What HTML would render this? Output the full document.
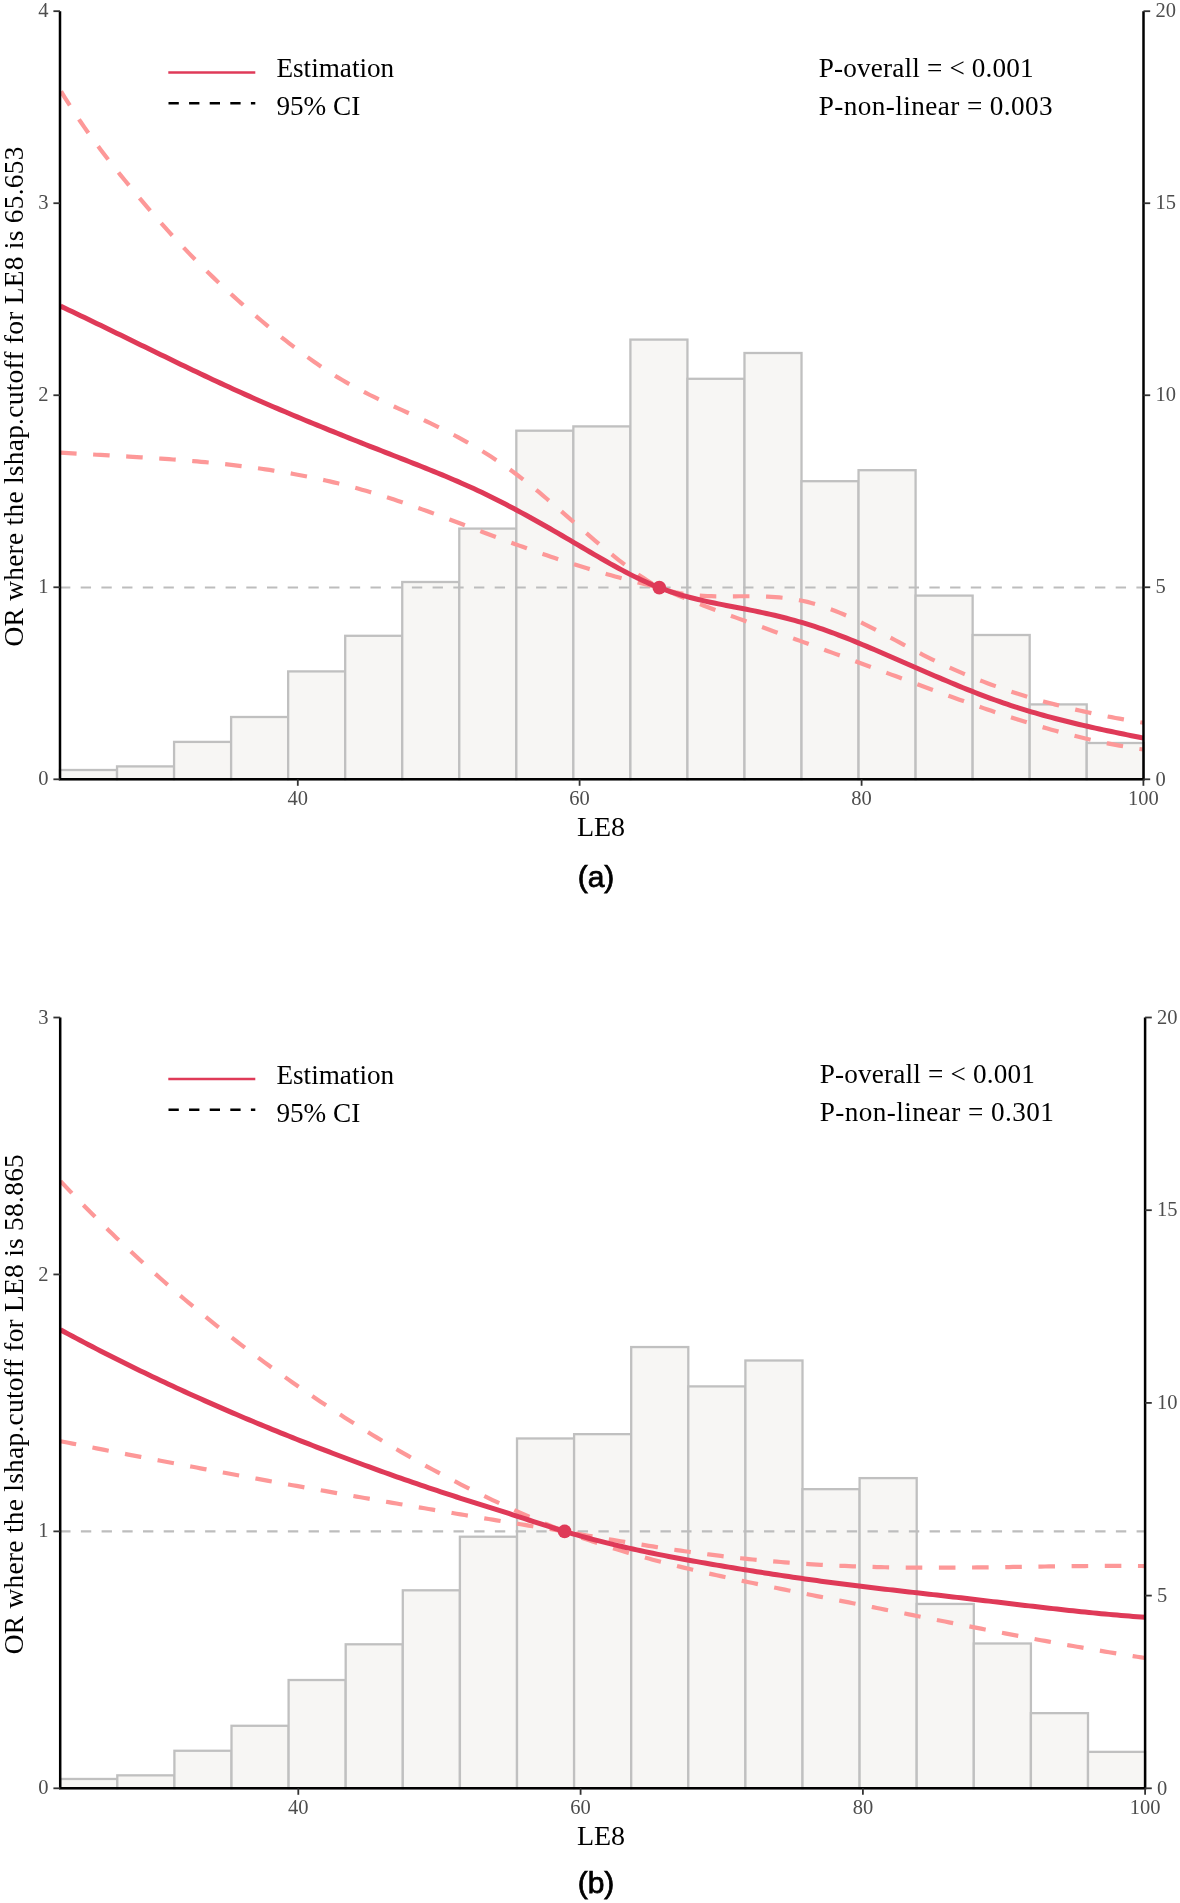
<!DOCTYPE html>
<html><head><meta charset="utf-8"><style>
html,body{margin:0;padding:0;background:#fff;}
svg{display:block;will-change:transform;}
.tk{font-family:"Liberation Serif",serif;font-size:20.5px;fill:#4d4d4d;}
.ttl{font-family:"Liberation Serif",serif;font-size:27.4px;fill:#000;}
.ttx{font-family:"Liberation Serif",serif;font-size:28px;fill:#000;}
.lg{font-family:"Liberation Serif",serif;font-size:27.2px;fill:#000;}
.pl{font-family:"Liberation Sans",sans-serif;font-size:30px;font-weight:normal;fill:#000;stroke:#000;stroke-width:0.75px;}
</style></head><body>
<svg width="1180" height="1903" viewBox="0 0 1180 1903">
<defs><clipPath id="clipa"><rect x="60.0" y="6.2" width="1083.5" height="773.1"/></clipPath><clipPath id="clipb"><rect x="60.2" y="1012.5" width="1084.9" height="775.8"/></clipPath></defs>
<rect width="1180" height="1903" fill="#fff"/>
<rect x="60.00" y="770.00" width="57.04" height="9.30" fill="#f7f6f4" stroke="#c0c0c0" stroke-width="2.3"/>
<rect x="117.04" y="766.40" width="57.04" height="12.90" fill="#f7f6f4" stroke="#c0c0c0" stroke-width="2.3"/>
<rect x="174.08" y="741.90" width="57.04" height="37.40" fill="#f7f6f4" stroke="#c0c0c0" stroke-width="2.3"/>
<rect x="231.12" y="717.00" width="57.04" height="62.30" fill="#f7f6f4" stroke="#c0c0c0" stroke-width="2.3"/>
<rect x="288.16" y="671.40" width="57.04" height="107.90" fill="#f7f6f4" stroke="#c0c0c0" stroke-width="2.3"/>
<rect x="345.20" y="635.80" width="57.04" height="143.50" fill="#f7f6f4" stroke="#c0c0c0" stroke-width="2.3"/>
<rect x="402.24" y="582.00" width="57.04" height="197.30" fill="#f7f6f4" stroke="#c0c0c0" stroke-width="2.3"/>
<rect x="459.28" y="528.60" width="57.04" height="250.70" fill="#f7f6f4" stroke="#c0c0c0" stroke-width="2.3"/>
<rect x="516.32" y="430.70" width="57.04" height="348.60" fill="#f7f6f4" stroke="#c0c0c0" stroke-width="2.3"/>
<rect x="573.36" y="426.40" width="57.04" height="352.90" fill="#f7f6f4" stroke="#c0c0c0" stroke-width="2.3"/>
<rect x="630.40" y="339.60" width="57.04" height="439.70" fill="#f7f6f4" stroke="#c0c0c0" stroke-width="2.3"/>
<rect x="687.44" y="378.80" width="57.04" height="400.50" fill="#f7f6f4" stroke="#c0c0c0" stroke-width="2.3"/>
<rect x="744.48" y="353.00" width="57.04" height="426.30" fill="#f7f6f4" stroke="#c0c0c0" stroke-width="2.3"/>
<rect x="801.52" y="481.20" width="57.04" height="298.10" fill="#f7f6f4" stroke="#c0c0c0" stroke-width="2.3"/>
<rect x="858.56" y="470.20" width="57.04" height="309.10" fill="#f7f6f4" stroke="#c0c0c0" stroke-width="2.3"/>
<rect x="915.60" y="595.60" width="57.04" height="183.70" fill="#f7f6f4" stroke="#c0c0c0" stroke-width="2.3"/>
<rect x="972.64" y="635.00" width="57.04" height="144.30" fill="#f7f6f4" stroke="#c0c0c0" stroke-width="2.3"/>
<rect x="1029.68" y="704.40" width="57.04" height="74.90" fill="#f7f6f4" stroke="#c0c0c0" stroke-width="2.3"/>
<rect x="1086.72" y="743.00" width="57.04" height="36.30" fill="#f7f6f4" stroke="#c0c0c0" stroke-width="2.3"/>
<line x1="60.0" y1="587.50" x2="1143.5" y2="587.50" stroke="#bdbdbd" stroke-width="2.2" stroke-dasharray="10.35 10.35"/>
<g clip-path="url(#clipa)">
<path d="M60.50 90.46 L64.52 97.05 L68.54 103.47 L72.56 109.72 L76.58 115.82 L80.59 121.77 L84.61 127.59 L88.63 133.28 L92.65 138.86 L96.67 144.32 L100.69 149.69 L104.71 154.96 L108.73 160.16 L112.74 165.28 L116.76 170.33 L120.78 175.33 L124.80 180.29 L128.82 185.20 L132.84 190.08 L136.86 194.92 L140.88 199.71 L144.89 204.45 L148.91 209.15 L152.93 213.81 L156.95 218.41 L160.97 222.97 L164.99 227.47 L169.01 231.92 L173.03 236.31 L177.04 240.65 L181.06 244.94 L185.08 249.17 L189.10 253.35 L193.12 257.48 L197.14 261.55 L201.16 265.58 L205.18 269.56 L209.20 273.49 L213.21 277.37 L217.23 281.21 L221.25 285.00 L225.27 288.75 L229.29 292.46 L233.31 296.12 L237.33 299.75 L241.35 303.34 L245.36 306.89 L249.38 310.40 L253.40 313.88 L257.42 317.32 L261.44 320.73 L265.46 324.11 L269.48 327.45 L273.50 330.76 L277.51 334.03 L281.53 337.27 L285.55 340.46 L289.57 343.61 L293.59 346.71 L297.61 349.77 L301.63 352.77 L305.65 355.73 L309.67 358.64 L313.68 361.49 L317.70 364.28 L321.72 367.02 L325.74 369.70 L329.76 372.31 L333.78 374.87 L337.80 377.35 L341.82 379.77 L345.83 382.12 L349.85 384.41 L353.87 386.63 L357.89 388.79 L361.91 390.91 L365.93 392.97 L369.95 395.00 L373.97 396.98 L377.98 398.93 L382.00 400.85 L386.02 402.74 L390.04 404.61 L394.06 406.47 L398.08 408.31 L402.10 410.15 L406.12 411.98 L410.13 413.81 L414.15 415.65 L418.17 417.50 L422.19 419.36 L426.21 421.24 L430.23 423.15 L434.25 425.08 L438.27 427.04 L442.29 429.04 L446.30 431.07 L450.32 433.13 L454.34 435.24 L458.36 437.39 L462.38 439.58 L466.40 441.81 L470.42 444.10 L474.44 446.43 L478.45 448.81 L482.47 451.25 L486.49 453.74 L490.51 456.29 L494.53 458.91 L498.55 461.58 L502.57 464.32 L506.59 467.12 L510.60 470.00 L514.62 472.94 L518.64 475.96 L522.66 479.05 L526.68 482.20 L530.70 485.41 L534.72 488.68 L538.74 491.99 L542.76 495.35 L546.77 498.75 L550.79 502.18 L554.81 505.64 L558.83 509.12 L562.85 512.62 L566.87 516.13 L570.89 519.65 L574.91 523.16 L578.92 526.67 L582.94 530.18 L586.96 533.66 L590.98 537.13 L595.00 540.56 L599.02 543.97 L603.04 547.34 L607.06 550.67 L611.07 553.95 L615.09 557.17 L619.11 560.34 L623.13 563.44 L627.15 566.48 L631.17 569.43 L635.19 572.31 L639.21 575.11 L643.22 577.81 L647.24 580.42 L651.26 582.92 L655.28 585.32 L659.30 587.60 L663.30 588.97 L667.30 590.19 L671.30 591.27 L675.31 592.22 L679.31 593.05 L683.31 593.76 L687.31 594.36 L691.31 594.87 L695.31 595.28 L699.32 595.62 L703.32 595.88 L707.32 596.07 L711.32 596.21 L715.32 596.30 L719.32 596.34 L723.33 596.36 L727.33 596.35 L731.33 596.33 L735.33 596.29 L739.33 596.26 L743.33 596.24 L747.34 596.23 L751.34 596.25 L755.34 596.29 L759.34 596.37 L763.34 596.49 L767.34 596.65 L771.35 596.86 L775.35 597.12 L779.35 597.45 L783.35 597.84 L787.35 598.30 L791.35 598.85 L795.36 599.48 L799.36 600.19 L803.36 601.00 L807.36 601.91 L811.36 602.93 L815.36 604.05 L819.37 605.26 L823.37 606.56 L827.37 607.95 L831.37 609.43 L835.37 610.98 L839.37 612.60 L843.38 614.29 L847.38 616.04 L851.38 617.85 L855.38 619.72 L859.38 621.63 L863.38 623.59 L867.39 625.58 L871.39 627.61 L875.39 629.67 L879.39 631.76 L883.39 633.87 L887.39 635.99 L891.40 638.12 L895.40 640.26 L899.40 642.40 L903.40 644.54 L907.40 646.67 L911.40 648.78 L915.41 650.88 L919.41 652.96 L923.41 655.01 L927.41 657.03 L931.41 659.01 L935.41 660.96 L939.42 662.87 L943.42 664.74 L947.42 666.59 L951.42 668.39 L955.42 670.17 L959.42 671.90 L963.43 673.61 L967.43 675.28 L971.43 676.93 L975.43 678.53 L979.43 680.11 L983.43 681.66 L987.44 683.17 L991.44 684.66 L995.44 686.11 L999.44 687.54 L1003.44 688.94 L1007.44 690.31 L1011.45 691.65 L1015.45 692.96 L1019.45 694.24 L1023.45 695.50 L1027.45 696.73 L1031.45 697.94 L1035.46 699.12 L1039.46 700.27 L1043.46 701.40 L1047.46 702.51 L1051.46 703.59 L1055.46 704.64 L1059.47 705.68 L1063.47 706.69 L1067.47 707.68 L1071.47 708.64 L1075.47 709.59 L1079.47 710.51 L1083.48 711.41 L1087.48 712.30 L1091.48 713.16 L1095.48 714.00 L1099.48 714.82 L1103.48 715.63 L1107.49 716.42 L1111.49 717.18 L1115.49 717.94 L1119.49 718.67 L1123.49 719.39 L1127.49 720.09 L1131.50 720.77 L1135.50 721.44 L1139.50 722.10 L1143.50 722.74" fill="none" stroke="#fd9898" stroke-width="4.2" stroke-dasharray="16.57 16.57" stroke-dashoffset="-1.09"/>
<path d="M60.50 452.66 L64.52 452.90 L68.54 453.14 L72.56 453.37 L76.58 453.60 L80.59 453.83 L84.61 454.05 L88.63 454.28 L92.65 454.50 L96.67 454.73 L100.69 454.95 L104.71 455.18 L108.73 455.40 L112.74 455.63 L116.76 455.86 L120.78 456.09 L124.80 456.32 L128.82 456.56 L132.84 456.80 L136.86 457.04 L140.88 457.29 L144.89 457.54 L148.91 457.80 L152.93 458.06 L156.95 458.33 L160.97 458.60 L164.99 458.88 L169.01 459.17 L173.03 459.47 L177.04 459.77 L181.06 460.09 L185.08 460.41 L189.10 460.74 L193.12 461.08 L197.14 461.43 L201.16 461.79 L205.18 462.16 L209.20 462.55 L213.21 462.94 L217.23 463.35 L221.25 463.77 L225.27 464.20 L229.29 464.65 L233.31 465.11 L237.33 465.58 L241.35 466.07 L245.36 466.58 L249.38 467.10 L253.40 467.63 L257.42 468.18 L261.44 468.75 L265.46 469.34 L269.48 469.94 L273.50 470.56 L277.51 471.21 L281.53 471.86 L285.55 472.54 L289.57 473.24 L293.59 473.96 L297.61 474.70 L301.63 475.46 L305.65 476.24 L309.67 477.04 L313.68 477.87 L317.70 478.72 L321.72 479.59 L325.74 480.48 L329.76 481.40 L333.78 482.35 L337.80 483.32 L341.82 484.31 L345.83 485.33 L349.85 486.37 L353.87 487.44 L357.89 488.54 L361.91 489.67 L365.93 490.82 L369.95 492.00 L373.97 493.21 L377.98 494.44 L382.00 495.69 L386.02 496.97 L390.04 498.28 L394.06 499.60 L398.08 500.94 L402.10 502.30 L406.12 503.68 L410.13 505.08 L414.15 506.49 L418.17 507.92 L422.19 509.36 L426.21 510.81 L430.23 512.28 L434.25 513.75 L438.27 515.24 L442.29 516.73 L446.30 518.24 L450.32 519.74 L454.34 521.26 L458.36 522.78 L462.38 524.30 L466.40 525.83 L470.42 527.35 L474.44 528.88 L478.45 530.40 L482.47 531.93 L486.49 533.45 L490.51 534.97 L494.53 536.48 L498.55 537.99 L502.57 539.49 L506.59 540.98 L510.60 542.47 L514.62 543.94 L518.64 545.40 L522.66 546.85 L526.68 548.29 L530.70 549.72 L534.72 551.13 L538.74 552.53 L542.76 553.92 L546.77 555.30 L550.79 556.66 L554.81 558.00 L558.83 559.34 L562.85 560.66 L566.87 561.96 L570.89 563.25 L574.91 564.53 L578.92 565.79 L582.94 567.04 L586.96 568.27 L590.98 569.48 L595.00 570.68 L599.02 571.87 L603.04 573.04 L607.06 574.19 L611.07 575.32 L615.09 576.44 L619.11 577.55 L623.13 578.63 L627.15 579.70 L631.17 580.75 L635.19 581.78 L639.21 582.80 L643.22 583.79 L647.24 584.77 L651.26 585.73 L655.28 586.68 L659.30 587.60 L663.30 589.31 L667.30 591.01 L671.30 592.68 L675.31 594.33 L679.31 595.96 L683.31 597.58 L687.31 599.18 L691.31 600.76 L695.31 602.33 L699.32 603.89 L703.32 605.43 L707.32 606.96 L711.32 608.48 L715.32 609.99 L719.32 611.49 L723.33 612.98 L727.33 614.46 L731.33 615.93 L735.33 617.40 L739.33 618.86 L743.33 620.32 L747.34 621.78 L751.34 623.23 L755.34 624.68 L759.34 626.12 L763.34 627.57 L767.34 629.02 L771.35 630.47 L775.35 631.92 L779.35 633.37 L783.35 634.82 L787.35 636.28 L791.35 637.73 L795.36 639.19 L799.36 640.65 L803.36 642.11 L807.36 643.58 L811.36 645.04 L815.36 646.51 L819.37 647.98 L823.37 649.44 L827.37 650.92 L831.37 652.39 L835.37 653.86 L839.37 655.33 L843.38 656.81 L847.38 658.29 L851.38 659.77 L855.38 661.24 L859.38 662.72 L863.38 664.21 L867.39 665.69 L871.39 667.17 L875.39 668.66 L879.39 670.14 L883.39 671.63 L887.39 673.12 L891.40 674.60 L895.40 676.09 L899.40 677.58 L903.40 679.07 L907.40 680.56 L911.40 682.05 L915.41 683.54 L919.41 685.02 L923.41 686.51 L927.41 687.99 L931.41 689.46 L935.41 690.94 L939.42 692.41 L943.42 693.87 L947.42 695.33 L951.42 696.78 L955.42 698.23 L959.42 699.66 L963.43 701.10 L967.43 702.52 L971.43 703.93 L975.43 705.34 L979.43 706.74 L983.43 708.12 L987.44 709.50 L991.44 710.86 L995.44 712.22 L999.44 713.56 L1003.44 714.89 L1007.44 716.20 L1011.45 717.50 L1015.45 718.79 L1019.45 720.07 L1023.45 721.32 L1027.45 722.57 L1031.45 723.79 L1035.46 725.00 L1039.46 726.20 L1043.46 727.37 L1047.46 728.53 L1051.46 729.67 L1055.46 730.79 L1059.47 731.89 L1063.47 732.97 L1067.47 734.02 L1071.47 735.06 L1075.47 736.08 L1079.47 737.07 L1083.48 738.04 L1087.48 738.99 L1091.48 739.91 L1095.48 740.81 L1099.48 741.69 L1103.48 742.53 L1107.49 743.36 L1111.49 744.16 L1115.49 744.93 L1119.49 745.67 L1123.49 746.38 L1127.49 747.07 L1131.50 747.73 L1135.50 748.36 L1139.50 748.96 L1143.50 749.52" fill="none" stroke="#fd9898" stroke-width="4.2" stroke-dasharray="16.55 16.55" stroke-dashoffset="0.42"/>
<path d="M60.50 306.11 L64.51 308.00 L68.52 309.90 L72.53 311.81 L76.54 313.72 L80.56 315.64 L84.57 317.57 L88.58 319.50 L92.59 321.44 L96.60 323.38 L100.61 325.32 L104.62 327.27 L108.63 329.22 L112.64 331.17 L116.66 333.13 L120.67 335.09 L124.68 337.05 L128.69 339.01 L132.70 340.97 L136.71 342.93 L140.72 344.89 L144.73 346.85 L148.74 348.81 L152.76 350.76 L156.77 352.72 L160.78 354.67 L164.79 356.62 L168.80 358.57 L172.81 360.51 L176.82 362.45 L180.83 364.38 L184.84 366.31 L188.86 368.23 L192.87 370.15 L196.88 372.06 L200.89 373.97 L204.90 375.87 L208.91 377.76 L212.92 379.64 L216.93 381.51 L220.94 383.38 L224.96 385.23 L228.97 387.08 L232.98 388.91 L236.99 390.74 L241.00 392.55 L245.01 394.35 L249.02 396.15 L253.03 397.93 L257.04 399.70 L261.06 401.46 L265.07 403.21 L269.08 404.95 L273.09 406.68 L277.10 408.40 L281.11 410.11 L285.12 411.82 L289.13 413.51 L293.14 415.20 L297.16 416.88 L301.17 418.55 L305.18 420.22 L309.19 421.87 L313.20 423.52 L317.21 425.17 L321.22 426.81 L325.23 428.44 L329.24 430.06 L333.26 431.68 L337.27 433.30 L341.28 434.91 L345.29 436.51 L349.30 438.11 L353.31 439.71 L357.32 441.30 L361.33 442.88 L365.34 444.47 L369.36 446.05 L373.37 447.63 L377.38 449.20 L381.39 450.77 L385.40 452.34 L389.41 453.91 L393.42 455.48 L397.43 457.04 L401.44 458.61 L405.46 460.18 L409.47 461.75 L413.48 463.32 L417.49 464.90 L421.50 466.49 L425.51 468.09 L429.52 469.70 L433.53 471.33 L437.54 472.96 L441.56 474.62 L445.57 476.29 L449.58 477.97 L453.59 479.68 L457.60 481.41 L461.61 483.17 L465.62 484.94 L469.63 486.75 L473.64 488.58 L477.66 490.44 L481.67 492.33 L485.68 494.26 L489.69 496.21 L493.70 498.20 L497.71 500.21 L501.72 502.25 L505.73 504.32 L509.74 506.41 L513.76 508.53 L517.77 510.67 L521.78 512.84 L525.79 515.02 L529.80 517.23 L533.81 519.46 L537.82 521.70 L541.83 523.96 L545.84 526.24 L549.86 528.53 L553.87 530.83 L557.88 533.15 L561.89 535.48 L565.90 537.82 L569.91 540.17 L573.92 542.53 L577.93 544.90 L581.94 547.27 L585.96 549.63 L589.97 551.99 L593.98 554.34 L597.99 556.68 L602.00 559.00 L606.01 561.29 L610.02 563.56 L614.03 565.79 L618.04 568.00 L622.06 570.16 L626.07 572.28 L630.08 574.35 L634.09 576.37 L638.10 578.33 L642.11 580.23 L646.12 582.07 L650.13 583.84 L654.14 585.53 L658.16 587.15 L662.17 588.69 L666.18 590.15 L670.19 591.53 L674.20 592.85 L678.21 594.09 L682.22 595.28 L686.23 596.41 L690.24 597.48 L694.26 598.51 L698.27 599.49 L702.28 600.42 L706.29 601.33 L710.30 602.20 L714.31 603.04 L718.32 603.86 L722.33 604.66 L726.34 605.45 L730.36 606.23 L734.37 607.00 L738.38 607.76 L742.39 608.54 L746.40 609.31 L750.41 610.10 L754.42 610.91 L758.43 611.73 L762.44 612.58 L766.46 613.45 L770.47 614.36 L774.48 615.29 L778.49 616.25 L782.50 617.24 L786.51 618.27 L790.52 619.33 L794.53 620.42 L798.54 621.55 L802.56 622.72 L806.57 623.93 L810.58 625.17 L814.59 626.46 L818.60 627.79 L822.61 629.17 L826.62 630.58 L830.63 632.04 L834.64 633.53 L838.66 635.05 L842.67 636.60 L846.68 638.19 L850.69 639.79 L854.70 641.42 L858.71 643.07 L862.72 644.73 L866.73 646.41 L870.74 648.10 L874.76 649.80 L878.77 651.52 L882.78 653.24 L886.79 654.98 L890.80 656.72 L894.81 658.46 L898.82 660.21 L902.83 661.97 L906.84 663.72 L910.86 665.48 L914.87 667.23 L918.88 668.98 L922.89 670.73 L926.90 672.47 L930.91 674.21 L934.92 675.94 L938.93 677.66 L942.94 679.37 L946.96 681.06 L950.97 682.75 L954.98 684.42 L958.99 686.07 L963.00 687.71 L967.01 689.33 L971.02 690.92 L975.03 692.50 L979.04 694.06 L983.06 695.59 L987.07 697.09 L991.08 698.57 L995.09 700.02 L999.10 701.45 L1003.11 702.84 L1007.12 704.20 L1011.13 705.54 L1015.14 706.84 L1019.16 708.12 L1023.17 709.36 L1027.18 710.59 L1031.19 711.79 L1035.20 712.96 L1039.21 714.11 L1043.22 715.23 L1047.23 716.34 L1051.24 717.42 L1055.26 718.48 L1059.27 719.52 L1063.28 720.54 L1067.29 721.54 L1071.30 722.53 L1075.31 723.49 L1079.32 724.45 L1083.33 725.38 L1087.34 726.30 L1091.36 727.21 L1095.37 728.10 L1099.38 728.99 L1103.39 729.86 L1107.40 730.72 L1111.41 731.57 L1115.42 732.41 L1119.43 733.24 L1123.44 734.06 L1127.46 734.88 L1131.47 735.69 L1135.48 736.49 L1139.49 737.30 L1143.50 738.09" fill="none" stroke="#df3a58" stroke-width="5.0" stroke-linejoin="round"/>
</g>
<circle cx="659.30" cy="587.60" r="6.8" fill="#df3a58"/>
<path d="M60.0 11.20 V779.30 H1143.5 V11.20" fill="none" stroke="#000" stroke-width="2.5" stroke-linejoin="miter"/>
<line x1="53.4" y1="779.30" x2="60.0" y2="779.30" stroke="#333" stroke-width="1.8"/>
<text x="48.6" y="785.40" text-anchor="end" class="tk">0</text>
<line x1="53.4" y1="587.27" x2="60.0" y2="587.27" stroke="#333" stroke-width="1.8"/>
<text x="48.6" y="593.37" text-anchor="end" class="tk">1</text>
<line x1="53.4" y1="395.24" x2="60.0" y2="395.24" stroke="#333" stroke-width="1.8"/>
<text x="48.6" y="401.34" text-anchor="end" class="tk">2</text>
<line x1="53.4" y1="203.21" x2="60.0" y2="203.21" stroke="#333" stroke-width="1.8"/>
<text x="48.6" y="209.31" text-anchor="end" class="tk">3</text>
<line x1="53.4" y1="11.18" x2="60.0" y2="11.18" stroke="#333" stroke-width="1.8"/>
<text x="48.6" y="17.28" text-anchor="end" class="tk">4</text>
<line x1="1143.5" y1="779.30" x2="1150.2" y2="779.30" stroke="#333" stroke-width="1.8"/>
<text x="1155.5" y="785.50" class="tk">0</text>
<line x1="1143.5" y1="587.27" x2="1150.2" y2="587.27" stroke="#333" stroke-width="1.8"/>
<text x="1155.5" y="593.48" class="tk">5</text>
<line x1="1143.5" y1="395.25" x2="1150.2" y2="395.25" stroke="#333" stroke-width="1.8"/>
<text x="1155.5" y="401.45" class="tk">10</text>
<line x1="1143.5" y1="203.23" x2="1150.2" y2="203.23" stroke="#333" stroke-width="1.8"/>
<text x="1155.5" y="209.43" class="tk">15</text>
<line x1="1143.5" y1="11.20" x2="1150.2" y2="11.20" stroke="#333" stroke-width="1.8"/>
<text x="1155.5" y="17.40" class="tk">20</text>
<line x1="297.8" y1="779.30" x2="297.8" y2="785.80" stroke="#333" stroke-width="1.8"/>
<text x="297.8" y="804.90" text-anchor="middle" class="tk">40</text>
<line x1="579.6" y1="779.30" x2="579.6" y2="785.80" stroke="#333" stroke-width="1.8"/>
<text x="579.6" y="804.90" text-anchor="middle" class="tk">60</text>
<line x1="861.6" y1="779.30" x2="861.6" y2="785.80" stroke="#333" stroke-width="1.8"/>
<text x="861.6" y="804.90" text-anchor="middle" class="tk">80</text>
<line x1="1143.4" y1="779.30" x2="1143.4" y2="785.80" stroke="#333" stroke-width="1.8"/>
<text x="1143.4" y="804.90" text-anchor="middle" class="tk">100</text>
<text x="601" y="835.50" text-anchor="middle" class="ttx">LE8</text>
<text transform="translate(22.5 396.55) rotate(-90)" text-anchor="middle" class="ttl" textLength="500" lengthAdjust="spacing">OR where the lshap.cutoff for LE8 is 65.653</text>
<line x1="168.3" y1="72.50" x2="255.3" y2="72.50" stroke="#df3a58" stroke-width="2.4"/>
<line x1="168.5" y1="103.20" x2="255.3" y2="103.20" stroke="#000" stroke-width="2.4" stroke-dasharray="10.3 10.3"/>
<text x="276.4" y="77.00" class="lg">Estimation</text>
<text x="276.4" y="115.00" class="lg">95% CI</text>
<text x="818.7" y="76.60" class="lg" textLength="215" lengthAdjust="spacing">P-overall = &lt; 0.001</text>
<text x="818.7" y="114.80" class="lg" textLength="234" lengthAdjust="spacing">P-non-linear = 0.003</text>
<text x="596" y="886.80" text-anchor="middle" class="pl">(a)</text>
<rect x="60.20" y="1778.97" width="57.10" height="9.33" fill="#f7f6f4" stroke="#c0c0c0" stroke-width="2.3"/>
<rect x="117.30" y="1775.35" width="57.10" height="12.95" fill="#f7f6f4" stroke="#c0c0c0" stroke-width="2.3"/>
<rect x="174.40" y="1750.77" width="57.10" height="37.53" fill="#f7f6f4" stroke="#c0c0c0" stroke-width="2.3"/>
<rect x="231.50" y="1725.78" width="57.10" height="62.52" fill="#f7f6f4" stroke="#c0c0c0" stroke-width="2.3"/>
<rect x="288.60" y="1680.02" width="57.10" height="108.28" fill="#f7f6f4" stroke="#c0c0c0" stroke-width="2.3"/>
<rect x="345.70" y="1644.30" width="57.10" height="144.00" fill="#f7f6f4" stroke="#c0c0c0" stroke-width="2.3"/>
<rect x="402.80" y="1590.31" width="57.10" height="197.99" fill="#f7f6f4" stroke="#c0c0c0" stroke-width="2.3"/>
<rect x="459.90" y="1536.72" width="57.10" height="251.58" fill="#f7f6f4" stroke="#c0c0c0" stroke-width="2.3"/>
<rect x="517.00" y="1438.47" width="57.10" height="349.83" fill="#f7f6f4" stroke="#c0c0c0" stroke-width="2.3"/>
<rect x="574.10" y="1434.16" width="57.10" height="354.14" fill="#f7f6f4" stroke="#c0c0c0" stroke-width="2.3"/>
<rect x="631.20" y="1347.05" width="57.10" height="441.25" fill="#f7f6f4" stroke="#c0c0c0" stroke-width="2.3"/>
<rect x="688.30" y="1386.39" width="57.10" height="401.91" fill="#f7f6f4" stroke="#c0c0c0" stroke-width="2.3"/>
<rect x="745.40" y="1360.50" width="57.10" height="427.80" fill="#f7f6f4" stroke="#c0c0c0" stroke-width="2.3"/>
<rect x="802.50" y="1489.15" width="57.10" height="299.15" fill="#f7f6f4" stroke="#c0c0c0" stroke-width="2.3"/>
<rect x="859.60" y="1478.11" width="57.10" height="310.19" fill="#f7f6f4" stroke="#c0c0c0" stroke-width="2.3"/>
<rect x="916.70" y="1603.95" width="57.10" height="184.35" fill="#f7f6f4" stroke="#c0c0c0" stroke-width="2.3"/>
<rect x="973.80" y="1643.49" width="57.10" height="144.81" fill="#f7f6f4" stroke="#c0c0c0" stroke-width="2.3"/>
<rect x="1030.90" y="1713.14" width="57.10" height="75.16" fill="#f7f6f4" stroke="#c0c0c0" stroke-width="2.3"/>
<rect x="1088.00" y="1751.87" width="57.10" height="36.43" fill="#f7f6f4" stroke="#c0c0c0" stroke-width="2.3"/>
<line x1="60.2" y1="1531.30" x2="1145.1" y2="1531.30" stroke="#bdbdbd" stroke-width="2.2" stroke-dasharray="10.35 10.35"/>
<g clip-path="url(#clipb)">
<path d="M60.50 1181.11 L64.50 1185.37 L68.50 1189.59 L72.50 1193.79 L76.50 1197.95 L80.50 1202.08 L84.50 1206.18 L88.51 1210.25 L92.51 1214.29 L96.51 1218.30 L100.51 1222.28 L104.51 1226.22 L108.51 1230.14 L112.51 1234.03 L116.51 1237.89 L120.51 1241.72 L124.51 1245.52 L128.51 1249.29 L132.51 1253.04 L136.52 1256.76 L140.52 1260.44 L144.52 1264.10 L148.52 1267.74 L152.52 1271.35 L156.52 1274.93 L160.52 1278.48 L164.52 1282.01 L168.52 1285.51 L172.52 1288.98 L176.52 1292.43 L180.52 1295.86 L184.52 1299.26 L188.53 1302.63 L192.53 1305.98 L196.53 1309.31 L200.53 1312.61 L204.53 1315.88 L208.53 1319.14 L212.53 1322.37 L216.53 1325.58 L220.53 1328.76 L224.53 1331.92 L228.53 1335.06 L232.53 1338.18 L236.53 1341.28 L240.54 1344.35 L244.54 1347.40 L248.54 1350.43 L252.54 1353.44 L256.54 1356.43 L260.54 1359.40 L264.54 1362.35 L268.54 1365.28 L272.54 1368.19 L276.54 1371.08 L280.54 1373.95 L284.54 1376.81 L288.55 1379.64 L292.55 1382.45 L296.55 1385.25 L300.55 1388.03 L304.55 1390.79 L308.55 1393.53 L312.55 1396.26 L316.55 1398.96 L320.55 1401.65 L324.55 1404.32 L328.55 1406.97 L332.55 1409.60 L336.55 1412.22 L340.56 1414.81 L344.56 1417.39 L348.56 1419.95 L352.56 1422.49 L356.56 1425.02 L360.56 1427.52 L364.56 1430.01 L368.56 1432.48 L372.56 1434.93 L376.56 1437.36 L380.56 1439.78 L384.56 1442.18 L388.57 1444.56 L392.57 1446.92 L396.57 1449.26 L400.57 1451.58 L404.57 1453.89 L408.57 1456.18 L412.57 1458.45 L416.57 1460.70 L420.57 1462.94 L424.57 1465.15 L428.57 1467.35 L432.57 1469.53 L436.57 1471.69 L440.58 1473.84 L444.58 1475.96 L448.58 1478.07 L452.58 1480.16 L456.58 1482.23 L460.58 1484.29 L464.58 1486.32 L468.58 1488.34 L472.58 1490.34 L476.58 1492.32 L480.58 1494.29 L484.58 1496.23 L488.58 1498.16 L492.59 1500.07 L496.59 1501.96 L500.59 1503.84 L504.59 1505.70 L508.59 1507.53 L512.59 1509.36 L516.59 1511.16 L520.59 1512.94 L524.59 1514.71 L528.59 1516.46 L532.59 1518.19 L536.59 1519.91 L540.60 1521.60 L544.60 1523.28 L548.60 1524.94 L552.60 1526.58 L556.60 1528.20 L560.60 1529.81 L564.60 1531.40 L568.60 1532.13 L572.61 1532.85 L576.61 1533.57 L580.61 1534.29 L584.62 1535.00 L588.62 1535.72 L592.62 1536.42 L596.63 1537.13 L600.63 1537.82 L604.63 1538.52 L608.64 1539.21 L612.64 1539.89 L616.64 1540.57 L620.65 1541.25 L624.65 1541.92 L628.66 1542.58 L632.66 1543.24 L636.66 1543.89 L640.67 1544.54 L644.67 1545.18 L648.67 1545.81 L652.68 1546.44 L656.68 1547.06 L660.68 1547.68 L664.69 1548.28 L668.69 1548.88 L672.69 1549.48 L676.70 1550.06 L680.70 1550.64 L684.70 1551.21 L688.71 1551.77 L692.71 1552.32 L696.71 1552.86 L700.72 1553.40 L704.72 1553.92 L708.72 1554.44 L712.73 1554.95 L716.73 1555.45 L720.73 1555.94 L724.74 1556.42 L728.74 1556.88 L732.74 1557.34 L736.75 1557.79 L740.75 1558.23 L744.76 1558.66 L748.76 1559.08 L752.76 1559.48 L756.77 1559.88 L760.77 1560.26 L764.77 1560.64 L768.78 1561.00 L772.78 1561.35 L776.78 1561.69 L780.79 1562.03 L784.79 1562.35 L788.79 1562.66 L792.80 1562.96 L796.80 1563.25 L800.80 1563.53 L804.81 1563.80 L808.81 1564.06 L812.81 1564.31 L816.82 1564.55 L820.82 1564.78 L824.82 1565.01 L828.83 1565.22 L832.83 1565.42 L836.83 1565.61 L840.84 1565.80 L844.84 1565.97 L848.84 1566.14 L852.85 1566.30 L856.85 1566.44 L860.86 1566.58 L864.86 1566.71 L868.86 1566.83 L872.87 1566.95 L876.87 1567.05 L880.87 1567.15 L884.88 1567.23 L888.88 1567.31 L892.88 1567.38 L896.89 1567.45 L900.89 1567.50 L904.89 1567.55 L908.90 1567.59 L912.90 1567.63 L916.90 1567.65 L920.91 1567.68 L924.91 1567.69 L928.91 1567.70 L932.92 1567.71 L936.92 1567.70 L940.92 1567.70 L944.93 1567.69 L948.93 1567.67 L952.93 1567.65 L956.94 1567.63 L960.94 1567.60 L964.94 1567.57 L968.95 1567.53 L972.95 1567.49 L976.96 1567.45 L980.96 1567.40 L984.96 1567.36 L988.97 1567.31 L992.97 1567.26 L996.97 1567.20 L1000.98 1567.15 L1004.98 1567.09 L1008.98 1567.03 L1012.99 1566.97 L1016.99 1566.91 L1020.99 1566.85 L1025.00 1566.79 L1029.00 1566.73 L1033.00 1566.67 L1037.01 1566.61 L1041.01 1566.56 L1045.01 1566.50 L1049.02 1566.44 L1053.02 1566.39 L1057.02 1566.33 L1061.03 1566.28 L1065.03 1566.23 L1069.03 1566.19 L1073.04 1566.14 L1077.04 1566.10 L1081.04 1566.06 L1085.05 1566.03 L1089.05 1566.00 L1093.06 1565.97 L1097.06 1565.95 L1101.06 1565.93 L1105.07 1565.91 L1109.07 1565.90 L1113.07 1565.90 L1117.08 1565.90 L1121.08 1565.90 L1125.08 1565.91 L1129.09 1565.93 L1133.09 1565.95 L1137.09 1565.98 L1141.10 1566.02 L1145.10 1566.06" fill="none" stroke="#fd9898" stroke-width="4.2" stroke-dasharray="16.59 16.59" stroke-dashoffset="0.05"/>
<path d="M60.50 1441.19 L64.50 1441.99 L68.50 1442.79 L72.50 1443.58 L76.50 1444.38 L80.50 1445.17 L84.50 1445.96 L88.51 1446.76 L92.51 1447.54 L96.51 1448.33 L100.51 1449.12 L104.51 1449.90 L108.51 1450.69 L112.51 1451.47 L116.51 1452.25 L120.51 1453.03 L124.51 1453.81 L128.51 1454.58 L132.51 1455.36 L136.52 1456.13 L140.52 1456.90 L144.52 1457.67 L148.52 1458.44 L152.52 1459.21 L156.52 1459.98 L160.52 1460.74 L164.52 1461.51 L168.52 1462.27 L172.52 1463.03 L176.52 1463.79 L180.52 1464.55 L184.52 1465.30 L188.53 1466.06 L192.53 1466.81 L196.53 1467.56 L200.53 1468.32 L204.53 1469.07 L208.53 1469.81 L212.53 1470.56 L216.53 1471.31 L220.53 1472.05 L224.53 1472.79 L228.53 1473.54 L232.53 1474.28 L236.53 1475.01 L240.54 1475.75 L244.54 1476.49 L248.54 1477.22 L252.54 1477.96 L256.54 1478.69 L260.54 1479.42 L264.54 1480.15 L268.54 1480.88 L272.54 1481.61 L276.54 1482.33 L280.54 1483.06 L284.54 1483.78 L288.55 1484.50 L292.55 1485.22 L296.55 1485.94 L300.55 1486.66 L304.55 1487.38 L308.55 1488.09 L312.55 1488.81 L316.55 1489.52 L320.55 1490.23 L324.55 1490.94 L328.55 1491.65 L332.55 1492.36 L336.55 1493.07 L340.56 1493.77 L344.56 1494.47 L348.56 1495.18 L352.56 1495.88 L356.56 1496.58 L360.56 1497.28 L364.56 1497.98 L368.56 1498.67 L372.56 1499.37 L376.56 1500.06 L380.56 1500.76 L384.56 1501.45 L388.57 1502.14 L392.57 1502.83 L396.57 1503.52 L400.57 1504.21 L404.57 1504.89 L408.57 1505.58 L412.57 1506.26 L416.57 1506.94 L420.57 1507.62 L424.57 1508.30 L428.57 1508.98 L432.57 1509.66 L436.57 1510.34 L440.58 1511.01 L444.58 1511.69 L448.58 1512.36 L452.58 1513.03 L456.58 1513.70 L460.58 1514.37 L464.58 1515.04 L468.58 1515.71 L472.58 1516.38 L476.58 1517.04 L480.58 1517.71 L484.58 1518.37 L488.58 1519.03 L492.59 1519.69 L496.59 1520.35 L500.59 1521.01 L504.59 1521.67 L508.59 1522.32 L512.59 1522.98 L516.59 1523.63 L520.59 1524.29 L524.59 1524.94 L528.59 1525.59 L532.59 1526.24 L536.59 1526.89 L540.60 1527.54 L544.60 1528.18 L548.60 1528.83 L552.60 1529.47 L556.60 1530.12 L560.60 1530.76 L564.60 1531.40 L568.60 1532.92 L572.61 1534.41 L576.61 1535.88 L580.61 1537.32 L584.62 1538.74 L588.62 1540.13 L592.62 1541.50 L596.63 1542.85 L600.63 1544.18 L604.63 1545.49 L608.64 1546.77 L612.64 1548.04 L616.64 1549.28 L620.65 1550.51 L624.65 1551.72 L628.66 1552.90 L632.66 1554.07 L636.66 1555.23 L640.67 1556.36 L644.67 1557.48 L648.67 1558.58 L652.68 1559.67 L656.68 1560.74 L660.68 1561.79 L664.69 1562.83 L668.69 1563.86 L672.69 1564.88 L676.70 1565.88 L680.70 1566.86 L684.70 1567.84 L688.71 1568.81 L692.71 1569.76 L696.71 1570.70 L700.72 1571.63 L704.72 1572.56 L708.72 1573.47 L712.73 1574.38 L716.73 1575.27 L720.73 1576.16 L724.74 1577.04 L728.74 1577.91 L732.74 1578.78 L736.75 1579.64 L740.75 1580.50 L744.76 1581.35 L748.76 1582.20 L752.76 1583.04 L756.77 1583.88 L760.77 1584.71 L764.77 1585.54 L768.78 1586.37 L772.78 1587.19 L776.78 1588.01 L780.79 1588.83 L784.79 1589.65 L788.79 1590.46 L792.80 1591.27 L796.80 1592.08 L800.80 1592.88 L804.81 1593.68 L808.81 1594.48 L812.81 1595.28 L816.82 1596.08 L820.82 1596.88 L824.82 1597.67 L828.83 1598.47 L832.83 1599.26 L836.83 1600.06 L840.84 1600.85 L844.84 1601.64 L848.84 1602.43 L852.85 1603.22 L856.85 1604.01 L860.86 1604.80 L864.86 1605.60 L868.86 1606.39 L872.87 1607.18 L876.87 1607.98 L880.87 1608.77 L884.88 1609.57 L888.88 1610.36 L892.88 1611.16 L896.89 1611.96 L900.89 1612.76 L904.89 1613.56 L908.90 1614.36 L912.90 1615.16 L916.90 1615.96 L920.91 1616.76 L924.91 1617.56 L928.91 1618.36 L932.92 1619.16 L936.92 1619.96 L940.92 1620.76 L944.93 1621.55 L948.93 1622.35 L952.93 1623.15 L956.94 1623.94 L960.94 1624.74 L964.94 1625.53 L968.95 1626.32 L972.95 1627.11 L976.96 1627.90 L980.96 1628.68 L984.96 1629.47 L988.97 1630.25 L992.97 1631.03 L996.97 1631.81 L1000.98 1632.59 L1004.98 1633.36 L1008.98 1634.13 L1012.99 1634.90 L1016.99 1635.66 L1020.99 1636.43 L1025.00 1637.19 L1029.00 1637.94 L1033.00 1638.70 L1037.01 1639.45 L1041.01 1640.19 L1045.01 1640.93 L1049.02 1641.67 L1053.02 1642.41 L1057.02 1643.14 L1061.03 1643.87 L1065.03 1644.59 L1069.03 1645.31 L1073.04 1646.02 L1077.04 1646.73 L1081.04 1647.44 L1085.05 1648.14 L1089.05 1648.83 L1093.06 1649.52 L1097.06 1650.21 L1101.06 1650.89 L1105.07 1651.56 L1109.07 1652.23 L1113.07 1652.89 L1117.08 1653.55 L1121.08 1654.20 L1125.08 1654.85 L1129.09 1655.49 L1133.09 1656.12 L1137.09 1656.75 L1141.10 1657.37 L1145.10 1657.99" fill="none" stroke="#fd9898" stroke-width="4.2" stroke-dasharray="16.59 16.59" stroke-dashoffset="0.62"/>
<path d="M60.50 1329.81 L64.50 1331.98 L68.50 1334.14 L72.51 1336.28 L76.51 1338.42 L80.51 1340.54 L84.51 1342.64 L88.52 1344.74 L92.52 1346.82 L96.52 1348.89 L100.52 1350.95 L104.52 1353.00 L108.53 1355.04 L112.53 1357.06 L116.53 1359.07 L120.53 1361.07 L124.54 1363.06 L128.54 1365.04 L132.54 1367.01 L136.54 1368.97 L140.54 1370.91 L144.55 1372.84 L148.55 1374.77 L152.55 1376.68 L156.55 1378.58 L160.56 1380.48 L164.56 1382.36 L168.56 1384.23 L172.56 1386.09 L176.56 1387.94 L180.57 1389.78 L184.57 1391.61 L188.57 1393.43 L192.57 1395.24 L196.58 1397.04 L200.58 1398.84 L204.58 1400.62 L208.58 1402.39 L212.58 1404.16 L216.59 1405.91 L220.59 1407.66 L224.59 1409.39 L228.59 1411.12 L232.60 1412.84 L236.60 1414.55 L240.60 1416.25 L244.60 1417.94 L248.60 1419.63 L252.61 1421.30 L256.61 1422.97 L260.61 1424.63 L264.61 1426.28 L268.62 1427.93 L272.62 1429.56 L276.62 1431.19 L280.62 1432.81 L284.62 1434.43 L288.63 1436.03 L292.63 1437.63 L296.63 1439.22 L300.63 1440.81 L304.64 1442.38 L308.64 1443.95 L312.64 1445.52 L316.64 1447.07 L320.64 1448.62 L324.65 1450.16 L328.65 1451.70 L332.65 1453.23 L336.65 1454.75 L340.65 1456.27 L344.66 1457.78 L348.66 1459.28 L352.66 1460.78 L356.66 1462.27 L360.67 1463.75 L364.67 1465.23 L368.67 1466.70 L372.67 1468.16 L376.67 1469.62 L380.68 1471.06 L384.68 1472.50 L388.68 1473.93 L392.68 1475.36 L396.69 1476.77 L400.69 1478.18 L404.69 1479.58 L408.69 1480.97 L412.69 1482.35 L416.70 1483.73 L420.70 1485.10 L424.70 1486.45 L428.70 1487.80 L432.71 1489.14 L436.71 1490.48 L440.71 1491.80 L444.71 1493.11 L448.71 1494.42 L452.72 1495.71 L456.72 1497.00 L460.72 1498.28 L464.72 1499.55 L468.73 1500.82 L472.73 1502.08 L476.73 1503.35 L480.73 1504.61 L484.73 1505.87 L488.74 1507.13 L492.74 1508.39 L496.74 1509.66 L500.74 1510.93 L504.75 1512.20 L508.75 1513.49 L512.75 1514.78 L516.75 1516.08 L520.75 1517.38 L524.76 1518.69 L528.76 1520.00 L532.76 1521.31 L536.76 1522.62 L540.77 1523.91 L544.77 1525.21 L548.77 1526.49 L552.77 1527.75 L556.77 1529.00 L560.78 1530.24 L564.78 1531.45 L568.78 1532.64 L572.78 1533.81 L576.79 1534.96 L580.79 1536.08 L584.79 1537.19 L588.79 1538.27 L592.79 1539.34 L596.80 1540.39 L600.80 1541.41 L604.80 1542.42 L608.80 1543.41 L612.81 1544.39 L616.81 1545.34 L620.81 1546.29 L624.81 1547.21 L628.81 1548.12 L632.82 1549.01 L636.82 1549.89 L640.82 1550.76 L644.82 1551.61 L648.83 1552.45 L652.83 1553.27 L656.83 1554.08 L660.83 1554.88 L664.83 1555.67 L668.84 1556.45 L672.84 1557.22 L676.84 1557.98 L680.84 1558.73 L684.85 1559.47 L688.85 1560.20 L692.85 1560.92 L696.85 1561.63 L700.85 1562.34 L704.86 1563.04 L708.86 1563.74 L712.86 1564.42 L716.86 1565.11 L720.87 1565.79 L724.87 1566.46 L728.87 1567.13 L732.87 1567.79 L736.87 1568.45 L740.88 1569.11 L744.88 1569.76 L748.88 1570.40 L752.88 1571.05 L756.89 1571.68 L760.89 1572.31 L764.89 1572.94 L768.89 1573.56 L772.89 1574.18 L776.90 1574.79 L780.90 1575.40 L784.90 1576.00 L788.90 1576.59 L792.91 1577.18 L796.91 1577.76 L800.91 1578.34 L804.91 1578.92 L808.91 1579.48 L812.92 1580.05 L816.92 1580.60 L820.92 1581.15 L824.92 1581.69 L828.93 1582.23 L832.93 1582.76 L836.93 1583.29 L840.93 1583.81 L844.93 1584.32 L848.94 1584.83 L852.94 1585.33 L856.94 1585.83 L860.94 1586.32 L864.95 1586.80 L868.95 1587.28 L872.95 1587.76 L876.95 1588.24 L880.95 1588.71 L884.96 1589.17 L888.96 1589.64 L892.96 1590.10 L896.96 1590.56 L900.96 1591.01 L904.97 1591.47 L908.97 1591.92 L912.97 1592.38 L916.97 1592.83 L920.98 1593.28 L924.98 1593.73 L928.98 1594.18 L932.98 1594.63 L936.98 1595.09 L940.99 1595.54 L944.99 1596.00 L948.99 1596.45 L952.99 1596.91 L957.00 1597.37 L961.00 1597.84 L965.00 1598.30 L969.00 1598.77 L973.00 1599.24 L977.01 1599.71 L981.01 1600.19 L985.01 1600.66 L989.01 1601.14 L993.02 1601.62 L997.02 1602.09 L1001.02 1602.57 L1005.02 1603.05 L1009.02 1603.52 L1013.03 1604.00 L1017.03 1604.47 L1021.03 1604.95 L1025.03 1605.42 L1029.04 1605.89 L1033.04 1606.35 L1037.04 1606.82 L1041.04 1607.28 L1045.04 1607.74 L1049.05 1608.19 L1053.05 1608.64 L1057.05 1609.09 L1061.05 1609.53 L1065.06 1609.97 L1069.06 1610.40 L1073.06 1610.83 L1077.06 1611.25 L1081.06 1611.67 L1085.07 1612.08 L1089.07 1612.48 L1093.07 1612.87 L1097.07 1613.26 L1101.08 1613.64 L1105.08 1614.02 L1109.08 1614.38 L1113.08 1614.74 L1117.08 1615.09 L1121.09 1615.43 L1125.09 1615.76 L1129.09 1616.08 L1133.09 1616.39 L1137.10 1616.69 L1141.10 1616.99 L1145.10 1617.27" fill="none" stroke="#df3a58" stroke-width="5.0" stroke-linejoin="round"/>
</g>
<circle cx="564.60" cy="1531.40" r="6.8" fill="#df3a58"/>
<path d="M60.2 1017.50 V1788.30 H1145.1 V1017.50" fill="none" stroke="#000" stroke-width="2.5" stroke-linejoin="miter"/>
<line x1="53.4" y1="1788.30" x2="60.2" y2="1788.30" stroke="#333" stroke-width="1.8"/>
<text x="48.6" y="1794.40" text-anchor="end" class="tk">0</text>
<line x1="53.4" y1="1531.37" x2="60.2" y2="1531.37" stroke="#333" stroke-width="1.8"/>
<text x="48.6" y="1537.47" text-anchor="end" class="tk">1</text>
<line x1="53.4" y1="1274.44" x2="60.2" y2="1274.44" stroke="#333" stroke-width="1.8"/>
<text x="48.6" y="1280.54" text-anchor="end" class="tk">2</text>
<line x1="53.4" y1="1017.51" x2="60.2" y2="1017.51" stroke="#333" stroke-width="1.8"/>
<text x="48.6" y="1023.61" text-anchor="end" class="tk">3</text>
<line x1="1145.1" y1="1788.30" x2="1151.8" y2="1788.30" stroke="#333" stroke-width="1.8"/>
<text x="1157.1" y="1794.50" class="tk">0</text>
<line x1="1145.1" y1="1595.60" x2="1151.8" y2="1595.60" stroke="#333" stroke-width="1.8"/>
<text x="1157.1" y="1601.80" class="tk">5</text>
<line x1="1145.1" y1="1402.90" x2="1151.8" y2="1402.90" stroke="#333" stroke-width="1.8"/>
<text x="1157.1" y="1409.10" class="tk">10</text>
<line x1="1145.1" y1="1210.20" x2="1151.8" y2="1210.20" stroke="#333" stroke-width="1.8"/>
<text x="1157.1" y="1216.40" class="tk">15</text>
<line x1="1145.1" y1="1017.50" x2="1151.8" y2="1017.50" stroke="#333" stroke-width="1.8"/>
<text x="1157.1" y="1023.70" class="tk">20</text>
<line x1="298.3" y1="1788.30" x2="298.3" y2="1794.80" stroke="#333" stroke-width="1.8"/>
<text x="298.3" y="1813.90" text-anchor="middle" class="tk">40</text>
<line x1="580.6" y1="1788.30" x2="580.6" y2="1794.80" stroke="#333" stroke-width="1.8"/>
<text x="580.6" y="1813.90" text-anchor="middle" class="tk">60</text>
<line x1="862.9" y1="1788.30" x2="862.9" y2="1794.80" stroke="#333" stroke-width="1.8"/>
<text x="862.9" y="1813.90" text-anchor="middle" class="tk">80</text>
<line x1="1145.1" y1="1788.30" x2="1145.1" y2="1794.80" stroke="#333" stroke-width="1.8"/>
<text x="1145.1" y="1813.90" text-anchor="middle" class="tk">100</text>
<text x="601" y="1844.50" text-anchor="middle" class="ttx">LE8</text>
<text transform="translate(22.5 1404.20) rotate(-90)" text-anchor="middle" class="ttl" textLength="500" lengthAdjust="spacing">OR where the lshap.cutoff for LE8 is 58.865</text>
<line x1="168.3" y1="1079.00" x2="255.3" y2="1079.00" stroke="#df3a58" stroke-width="2.4"/>
<line x1="168.5" y1="1109.70" x2="255.3" y2="1109.70" stroke="#000" stroke-width="2.4" stroke-dasharray="10.3 10.3"/>
<text x="276.4" y="1083.50" class="lg">Estimation</text>
<text x="276.4" y="1121.50" class="lg">95% CI</text>
<text x="819.8" y="1083.10" class="lg" textLength="215" lengthAdjust="spacing">P-overall = &lt; 0.001</text>
<text x="819.8" y="1121.30" class="lg" textLength="234" lengthAdjust="spacing">P-non-linear = 0.301</text>
<text x="596" y="1893.30" text-anchor="middle" class="pl">(b)</text>
</svg>
</body></html>
